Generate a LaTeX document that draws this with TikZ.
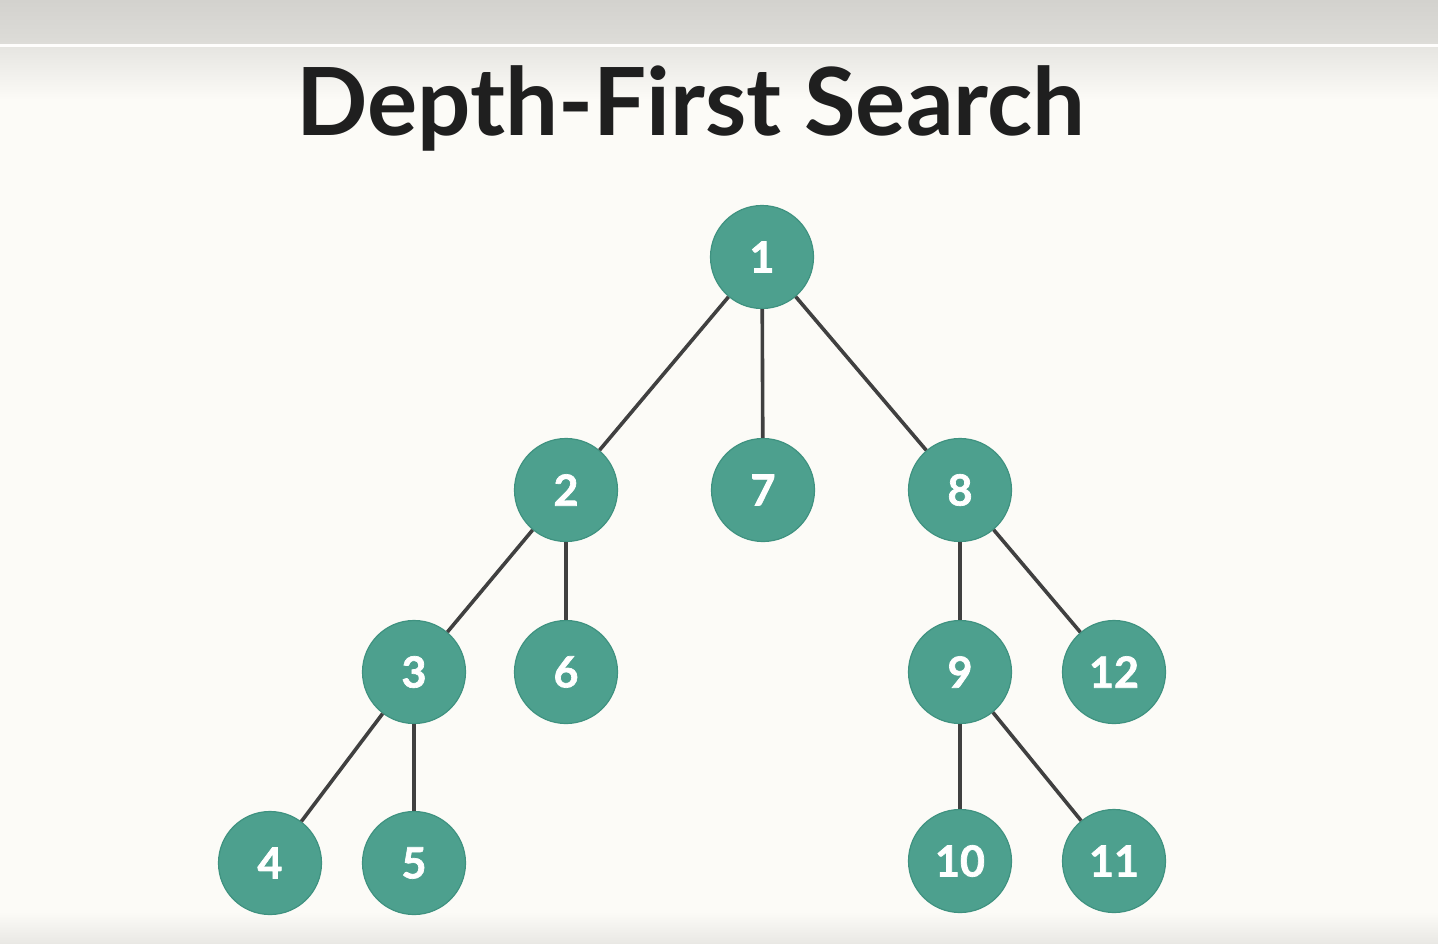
\documentclass[tikz,border=0pt]{standalone}
\usepackage{fontspec}
\setmainfont{Lato}
\newfontfamily\digitfont[FakeBold=1.6]{Lato Bold}
\definecolor{bgc}{HTML}{FCFBF7}
\definecolor{teal1}{HTML}{4DA08E}
\definecolor{tealb}{HTML}{3F9280}
\definecolor{edgec}{HTML}{404040}
\definecolor{bandtop}{HTML}{D3D2CE}
\definecolor{bandbot}{HTML}{DDDCD8}
\tikzset{
  tnode/.style={circle, fill=teal1, draw=tealb, line width=0.6pt, minimum size=51.5pt, inner sep=0pt,
    text=white, font=\digitfont\fontsize{21.5}{21.5}\selectfont},
  tedge/.style={draw=edgec, line width=1.8pt},
}
\begin{document}
\begin{tikzpicture}[x=0.5pt,y=-0.5pt]
\useasboundingbox (0,0) rectangle (1438,943);
\fill[bgc] (0,0) rectangle (1438,943);
\shade[top color=bandtop, bottom color=bandbot] (0,0) rectangle (1438,44);
\fill[white!60!bgc] (0,44) rectangle (1438,47);
\shade[top color=bandbot!70!bgc, bottom color=bgc] (0,47) rectangle (1438,100);
\shade[top color=bgc, bottom color=bandbot!60!bgc] (0,912) rectangle (1438,943);
\node[font=\bfseries\fontsize{47}{47}\selectfont, text=black!88, anchor=base] (title) at (691,135) {Depth-First Search};
\node[tnode] (n1) at (762,257) {1};
\node[tnode] (n2) at (566,490) {2};
\node[tnode] (n7) at (763,490) {7};
\node[tnode] (n8) at (960,490) {8};
\node[tnode] (n3) at (414,672) {3};
\node[tnode] (n6) at (566,672) {6};
\node[tnode] (n9) at (960,672) {9};
\node[tnode] (n12) at (1114,672) {12};
\node[tnode] (n4) at (270,863) {4};
\node[tnode] (n5) at (414,863) {5};
\node[tnode] (n10) at (960,861) {10};
\node[tnode] (n11) at (1114,861) {11};
\draw[tedge] (n1) -- (n2);
\draw[tedge] (n1) -- (n7);
\draw[tedge] (n1) -- (n8);
\draw[tedge] (n2) -- (n3);
\draw[tedge] (n2) -- (n6);
\draw[tedge] (n3) -- (n4);
\draw[tedge] (n3) -- (n5);
\draw[tedge] (n8) -- (n9);
\draw[tedge] (n8) -- (n12);
\draw[tedge] (n9) -- (n10);
\draw[tedge] (n9) -- (n11);
\end{tikzpicture}
\end{document}
